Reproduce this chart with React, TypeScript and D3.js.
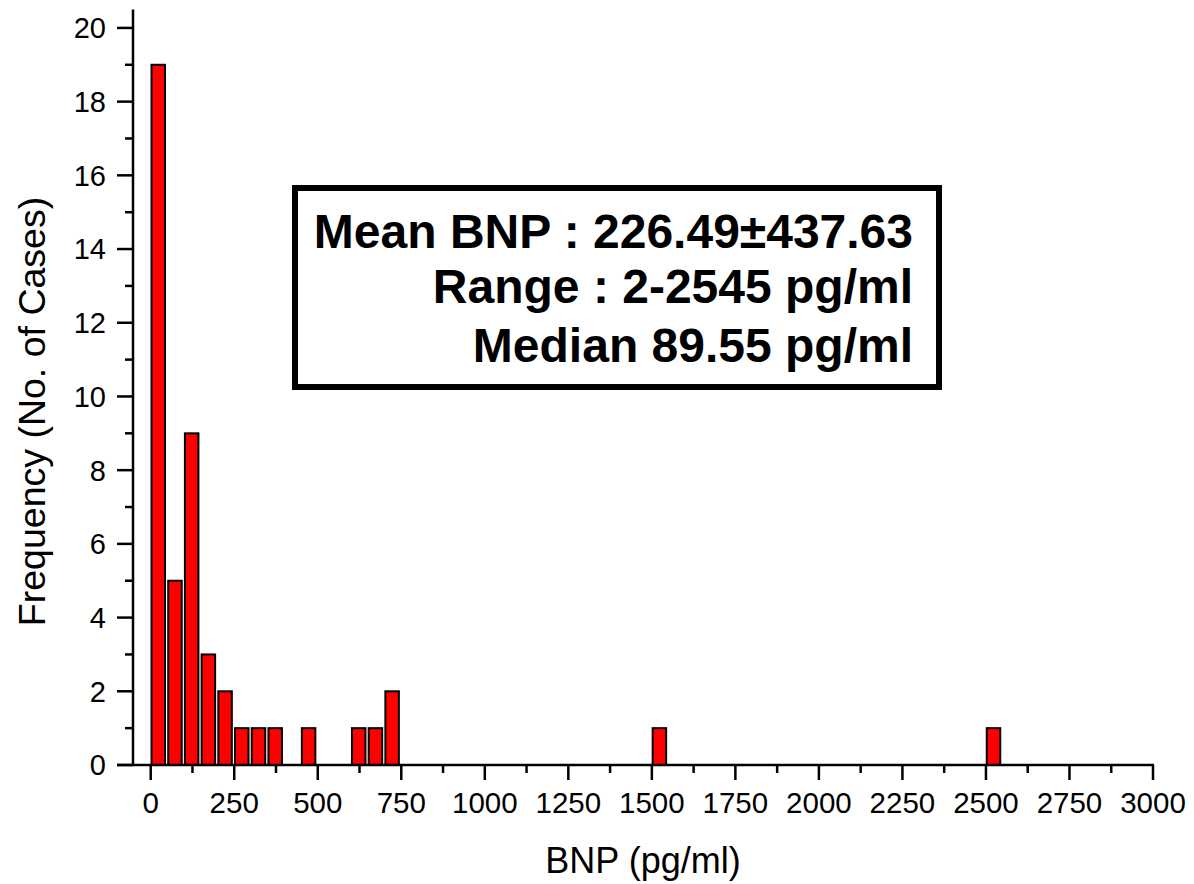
import React from "react";
import * as d3 from "d3";

const binStarts = [0, 50, 100, 150, 200, 250, 300, 350, 450, 600, 650, 700, 1500, 2500];
const binCounts = [19, 5, 9, 3, 2, 1, 1, 1, 1, 1, 1, 2, 1, 1];
const binWidth = 50;
const xTicks = [0, 250, 500, 750, 1000, 1250, 1500, 1750, 2000, 2250, 2500, 2750, 3000];
const xMinorTicks = [125, 375, 625, 875, 1125, 1375, 1625, 1875, 2125, 2375, 2625, 2875];
const yTicks = [0, 2, 4, 6, 8, 10, 12, 14, 16, 18, 20];
const yMinorTicks = [1, 3, 5, 7, 9, 11, 13, 15, 17, 19];
const boxLines = ["Mean BNP : 226.49\u00B1437.63", "Range : 2-2545 pg/ml", "Median 89.55 pg/ml"];
const xTitle = "BNP (pg/ml)";
const yTitle = "Frequency (No. of Cases)";

const FONT = "'Liberation Sans', Arial, Helvetica, sans-serif";

export default function App() {
  const W = 1194;
  const H = 884;
  const x = d3.scaleLinear().domain([-50, 3000]).range([134, 1153]);
  const y = d3.scaleLinear().domain([0, 20.5]).range([765, 9.5]);
  const axisX = 133;
  const axisY = 765;

  return (
    <svg
      width={W}
      height={H}
      style={{ position: "absolute", left: 0, top: 0, background: "#fff" }}
      fontFamily={FONT}
    >
      <rect x={0} y={0} width={W} height={H} fill="#fff" />
      {/* bars */}
      {binStarts.map((b, i) => {
        const x0 = x(b) + 0.8;
        const x1 = x(b + binWidth) - 2.4;
        return (
          <rect
            key={i}
            x={x0}
            y={y(binCounts[i])}
            width={x1 - x0}
            height={y(0) - y(binCounts[i])}
            fill="#ff0000"
            stroke="#000"
            strokeWidth={2}
          />
        );
      })}
      {/* y axis */}
      <line x1={axisX} x2={axisX} y1={y(20.5)} y2={axisY + 1} stroke="#000" strokeWidth={2.5} />
      {yTicks.map((t) => (
        <g key={"yt" + t}>
          <line x1={axisX - 16} x2={axisX} y1={y(t)} y2={y(t)} stroke="#000" strokeWidth={2.5} />
          <text x={106} y={y(t)} dy="0.36em" textAnchor="end" fontSize={29} fill="#000">
            {t}
          </text>
        </g>
      ))}
      {yMinorTicks.map((t) => (
        <line key={"ym" + t} x1={axisX - 8} x2={axisX} y1={y(t)} y2={y(t)} stroke="#000" strokeWidth={2.5} />
      ))}
      {/* x axis */}
      <line x1={117} x2={1154} y1={axisY} y2={axisY} stroke="#000" strokeWidth={2.5} />
      {xTicks.map((t) => (
        <g key={"xt" + t}>
          <line x1={x(t)} x2={x(t)} y1={axisY} y2={axisY + 15} stroke="#000" strokeWidth={2.5} />
          <text x={x(t)} y={813} textAnchor="middle" fontSize={29.5} fill="#000">
            {t}
          </text>
        </g>
      ))}
      {xMinorTicks.map((t) => (
        <line key={"xm" + t} x1={x(t)} x2={x(t)} y1={axisY} y2={axisY + 8} stroke="#000" strokeWidth={2.5} />
      ))}
      {/* titles */}
      <text x={643} y={873} textAnchor="middle" fontSize={36} fill="#000">
        {xTitle}
      </text>
      <text
        transform={`translate(45, 411.5) rotate(-90)`}
        textAnchor="middle"
        fontSize={37.5}
        fill="#000"
      >
        {yTitle}
      </text>
      {/* stats box */}
      <rect x={295} y={188} width={644} height={199} fill="#fff" stroke="#000" strokeWidth={6} />
      {boxLines.map((s, i) => (
        <text
          key={i}
          x={913}
          y={[248, 303, 362][i]}
          textAnchor="end"
          fontSize={48}
          fontWeight="bold"
          fill="#000"
        >
          {s}
        </text>
      ))}
    </svg>
  );
}
